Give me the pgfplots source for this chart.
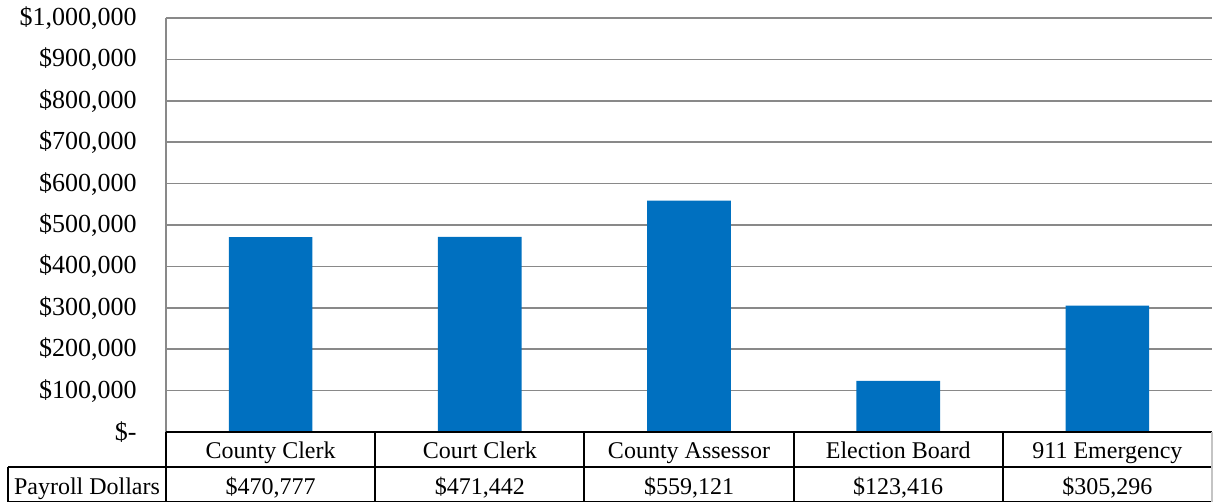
\documentclass[border=0pt]{standalone}
\usepackage{pgfplots}
\pgfplotsset{compat=1.18}
\usepackage{fontspec}
\setmainfont{Liberation Serif}
\usetikzlibrary{calc}
\definecolor{barblue}{HTML}{0070C0}
\definecolor{gridgray}{HTML}{898989}

\begin{document}
\begin{tikzpicture}[font=\fontsize{12}{14}\selectfont]
\begin{axis}[
  width=523pt, height=207pt, scale only axis,
  xmin=-0.5, xmax=4.5, ymin=0, ymax=1000000,
  axis x line*=bottom, axis y line*=left,
  x axis line style={draw=none},
  y axis line style={draw=gridgray, line width=0.75pt},
  ymajorgrids, major grid style={draw=gridgray, line width=0.75pt},
  ytick={0,100000,200000,300000,400000,500000,600000,700000,800000,900000,1000000},
  yticklabels={{\$-},{\$100,000},{\$200,000},{\$300,000},{\$400,000},{\$500,000},{\$600,000},{\$700,000},{\$800,000},{\$900,000},{\$1,000,000}},
  scaled y ticks=false,
  major tick length=0pt,
  yticklabel style={anchor=east, inner sep=0pt, xshift=-14.5pt, font=\fontsize{13}{15}\selectfont},
  xtick=data,
  xticklabels={County Clerk,Court Clerk,County Assessor,Election Board,911 Emergency},
  xticklabel style={anchor=base, inner sep=0pt, yshift=-13pt},
  clip=false,
]
\addplot[ybar, bar width=0.4, fill=barblue, draw=none] coordinates {
  (0,470777) (1,471442) (2,559121) (3,123416) (4,305296)
};
\coordinate (O) at (rel axis cs:0,0);
\end{axis}
% data table below the plot
\draw[line width=1pt] (O) -- ++(523pt,0);
\draw[line width=1pt] ($(O)+(-79pt,-17.5pt)$) -- ++(602pt,0);
\draw[line width=1pt] ($(O)+(-79pt,-35pt)$) -- ++(602pt,0);
\foreach \i in {0,...,4} \draw[line width=1pt] ($(O)+(\i*104.6pt,0)$) -- ++(0,-35pt);
\draw[line width=1pt, gridgray!50] ($(O)+(523pt,0)$) -- ++(0,-35pt);
\draw[line width=1pt] ($(O)+(-79pt,-17.5pt)$) -- ++(0,-17.5pt);
\node[anchor=base, inner sep=0pt] at ($(O)+(-39.5pt,-31pt)$) {Payroll Dollars};
\node[anchor=base, inner sep=0pt] at ($(O)+(0.5*104.6pt,-31pt)$) {\$470,777};
\node[anchor=base, inner sep=0pt] at ($(O)+(1.5*104.6pt,-31pt)$) {\$471,442};
\node[anchor=base, inner sep=0pt] at ($(O)+(2.5*104.6pt,-31pt)$) {\$559,121};
\node[anchor=base, inner sep=0pt] at ($(O)+(3.5*104.6pt,-31pt)$) {\$123,416};
\node[anchor=base, inner sep=0pt] at ($(O)+(4.5*104.6pt,-31pt)$) {\$305,296};
\pgfresetboundingbox
\path ($(O)+(-83pt,-35pt)$) rectangle ($(O)+(523.5pt,216pt)$);
\end{tikzpicture}
\end{document}
